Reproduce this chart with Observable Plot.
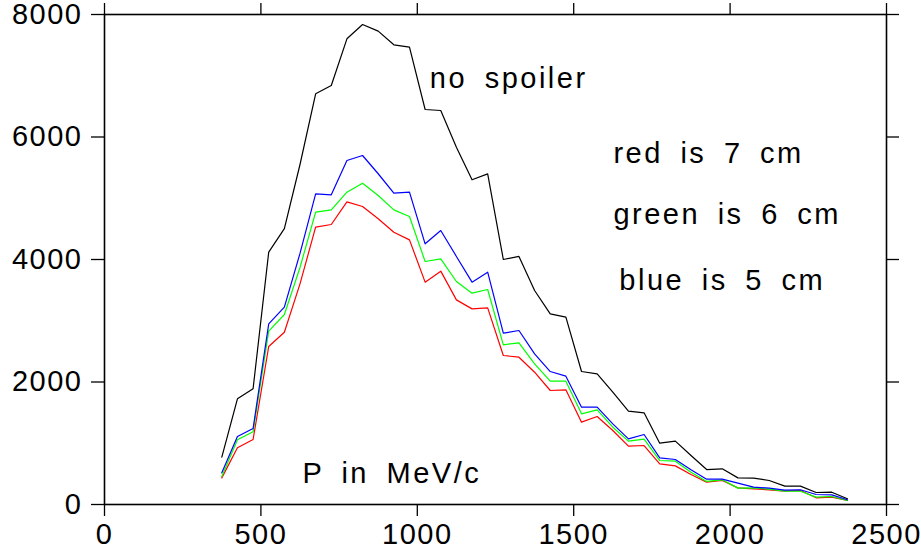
<!DOCTYPE html>
<html><head><meta charset="utf-8">
<script src="https://cdn.jsdelivr.net/npm/d3@7"></script>
<script src="https://cdn.jsdelivr.net/npm/@observablehq/plot@0.6"></script>
<style>
html,body{margin:0;padding:0;background:#fff;}
#chart svg text{letter-spacing:1.5px;}
</style></head><body><div id="chart"></div>
<script>
// P in MeV/c (bin centres)
const momentum = [375,425,475,525,575,625,675,725,775,825,875,925,975,1025,1075,1125,1175,1225,1275,1325,1375,1425,1475,1525,1575,1625,1675,1725,1775,1825,1875,1925,1975,2025,2075,2125,2175,2225,2275,2325,2375];
const noSpoiler = [772,1726,1889,4120,4505,5551,6705,6841,7603,7837,7728,7505,7466,6449,6433,5834,5301,5398,4000,4050,3494,3113,3058,2171,2133,1834,1524,1497,1001,1034,800,571,582,435,430,392,300,300,196,201,93];
const blue5cm = [517,1110,1241,2950,3222,4100,5073,5056,5616,5698,5400,5083,5099,4256,4473,4050,3630,3793,2797,2841,2460,2171,2095,1589,1589,1317,1072,1143,762,735,566,414,414,348,283,267,234,240,163,158,77];
const green6cm = [457,1056,1187,2830,3102,3870,4773,4811,5099,5246,5045,4811,4702,3967,4011,3641,3450,3510,2607,2640,2297,2013,2013,1480,1546,1262,1034,1066,718,707,528,376,403,267,272,250,217,217,120,131,65];
const red7cm = [435,925,1061,2580,2813,3603,4528,4571,4940,4865,4664,4446,4321,3630,3810,3341,3194,3211,2433,2405,2160,1861,1872,1344,1437,1208,952,963,664,631,490,364,392,272,256,240,217,229,109,120,65];

const xTicks = [0,500,1000,1500,2000,2500];
const yTicks = [0,2000,4000,6000,8000];

const annoText = ["no spoiler","red is 7 cm","green is 6 cm","blue is 5 cm","P in MeV/c"];
const annoX = [1040,1627,1627,1646,633];
const annoY = [6797,5579,4583,3494,348];

const series = [
  {name:"red", values:red7cm},
  {name:"lime", values:green6cm},
  {name:"blue", values:blue5cm},
  {name:"black", values:noSpoiler}
];
const rows = series.flatMap(s => momentum.map((p,i) => ({p, v:s.values[i], s:s.name})));
const annotations = annoText.map((t,i) => ({text:t, x:annoX[i], y:annoY[i]}));

const chart = Plot.plot({
  width: 921, height: 552,
  marginLeft: 104, marginRight: 35, marginTop: 14, marginBottom: 48,
  style: {fontFamily: "'Liberation Sans', Arial, sans-serif", fontSize: "29px", color: "black", background: "white", overflow: "visible"},
  x: {domain: [0, 2500]},
  y: {domain: [0, 8000]},
  color: {type: "identity"},
  marks: [
    Plot.axisX(xTicks, {anchor: "bottom", tickSize: 12, tickPadding: 7, strokeWidth: 1.3, tickFormat: "d", label: null}),
    Plot.axisX(xTicks, {anchor: "top", tickSize: 12, strokeWidth: 1.3, tickFormat: () => "", label: null}),
    Plot.axisY(yTicks, {anchor: "left", tickSize: 13, tickPadding: 9, strokeWidth: 1.3, tickFormat: "d", label: null}),
    Plot.axisY(yTicks, {anchor: "right", tickSize: 12, strokeWidth: 1.3, tickFormat: () => "", label: null}),
    Plot.line(rows, {x: "p", y: "v", z: "s", stroke: "s", strokeWidth: 1.2}),
    Plot.frame({stroke: "black", strokeWidth: 1.6}),
    Plot.text(annotations, {x: "x", y: "y", text: "text", textAnchor: "start", lineAnchor: "bottom", fontSize: 29})
  ]
});
d3.select(chart).selectAll('g[aria-label="text"] text')
  .style("letter-spacing", "2.5px")
  .style("word-spacing", "7px");
document.getElementById("chart").appendChild(chart);
</script>
</body></html>
